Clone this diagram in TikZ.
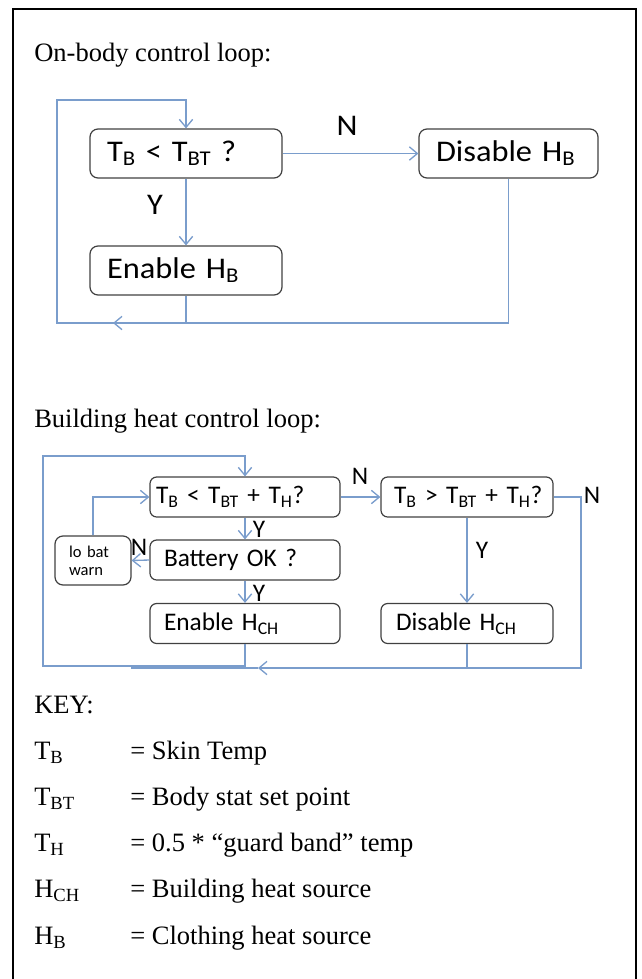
\documentclass[tikz,border=0pt]{standalone}
\usepackage{fontspec}
\setmainfont{Liberation Serif}
\newfontfamily\calfont{Carlito}
\newfontfamily\calwide{Carlito}[FakeStretch=1.08]
\usetikzlibrary{arrows.meta}
\definecolor{linkblue}{RGB}{122,157,204}
\definecolor{boxgray}{RGB}{64,64,64}
\newcommand\mysub[1]{\textsubscript{#1}}
\begin{document}
\begin{tikzpicture}[x=0.75pt,y=-0.75pt,
  box/.style={draw=boxgray, line width=0.9pt, rounded corners=6pt, inner ysep=0pt, font=\calfont\fontsize{19}{22}\selectfont, align=left},
  bigbox/.style={box, font=\calwide\fontsize{22.5}{26}\selectfont, minimum height=36.75pt},
  smallbox/.style={box, rounded corners=5pt, minimum height=30pt},
  link/.style={draw=linkblue, line width=1pt},
  arr/.style={link, -{Straight Barb[length=6pt,width=10pt]}},
  lbl/.style={font=\calwide\fontsize{22.5}{26}\selectfont, inner sep=0pt},
  slbl/.style={font=\calfont\fontsize{19}{22}\selectfont, inner sep=0pt},
  serif/.style={font=\fontsize{19.9}{24}\selectfont, inner sep=0pt, anchor=base west},
]
\useasboundingbox (0,0) rectangle (642,979);
\draw[line width=1.5pt] (13,979) -- (13,9) -- (636,9) -- (636,979);

% titles
\node[serif] (t1) at (34,61) {On-body control loop:};
\node[serif] (t2) at (34,427) {Building heat control loop:};

% top loop
\node[bigbox, minimum width=144pt, text width=118.5pt, inner xsep=12.75pt] (b1) at (186,153.5) {\mbox{T\mysub{B} < T\mysub{BT} ?}};
\node[bigbox, minimum width=134.25pt, text width=108.75pt, inner xsep=12.75pt] (b2) at (508.5,153.5) {\mbox{Disable H\mysub{B}}};
\node[bigbox, minimum width=144pt, text width=118.5pt, inner xsep=12.75pt] (b3) at (186,270.5) {\mbox{Enable H\mysub{B}}};
\coordinate (tl) at (57,100);
\coordinate (bl) at (57,323);
\coordinate (barrow) at (113,323);
\draw[arr] (b3.south) |- (bl) -- (tl) -| (b1.north);
\draw[arr] (b1.east) -- (b2.west);
\draw[arr] (b1.south) -- (b3.north);
\draw[arr] (b2.south) |- (barrow);
\node[lbl] (n1) at (347,126) {N};
\node[lbl] (y1) at (155,205) {Y};

% bottom loop
\node[smallbox, minimum width=142.5pt, text width=133.5pt, inner xsep=4.5pt] (A) at (245,497) {\mbox{T\mysub{B} < T\mysub{BT} + T\mysub{H}?}};
\node[smallbox, minimum width=129pt, text width=109.5pt, inner xsep=9.75pt] (B) at (467,497) {\mbox{T\mysub{B} > T\mysub{BT} + T\mysub{H}?}};
\node[smallbox, minimum width=142.5pt, text width=121.5pt, inner xsep=10.5pt] (C) at (245,560) {\mbox{Battery OK ?}};
\node[smallbox, minimum width=142.5pt, text width=121.5pt, inner xsep=10.5pt] (D) at (245,623.5) {\mbox{Enable H\mysub{CH}}};
\node[smallbox, minimum width=129pt, text width=106.5pt, inner xsep=11.25pt] (E) at (467,623.5) {\mbox{Disable H\mysub{CH}}};
\node[box, font=\calfont\fontsize{12.4}{13.5}\selectfont, minimum width=57pt, minimum height=36.75pt, text width=36pt, inner xsep=10.5pt] (F) at (93,560.5) {lo bat\\warn};

\coordinate (otl) at (43,456);
\coordinate (obl) at (43,666);
\coordinate (rt) at (581,497);
\coordinate (rb) at (581,668);
\coordinate (barr) at (258,668);
\coordinate (bend) at (131,668);
\coordinate (eb) at (467,668);
\draw[arr] (D.south) |- (obl) -- (otl) -| (A.north);
\draw[arr] (F.north) |- (A.west);
\draw[arr] (A.east) -- (B.west);
\draw[arr] (A.south) -- (C.north);
\draw[arr] (C.west) -- (F.east);
\draw[arr] (C.south) -- (D.north);
\draw[arr] (B.south) -- (E.north);
\draw[arr] (B.east) -- (rt) -- (rb) -- (barr);
\draw[link] (barr) -- (bend);
\draw[link] (E.south) -- (eb);
\node[slbl] (n2) at (360,476) {N};
\node[slbl] (y2) at (259,529) {Y};
\node[slbl] (n3) at (139,547) {N};
\node[slbl] (y3) at (259,593) {Y};
\node[slbl] (y4) at (482,550) {Y};
\node[slbl] (n4) at (592,495) {N};

% key
\node[serif] (key) at (34,713) {KEY:};
\node[serif] (k1s) at (34,759) {T\textsubscript{B}};
\node[serif] (k1d) at (130,759) {= Skin Temp};
\node[serif] (k2s) at (34,805) {T\textsubscript{BT}};
\node[serif] (k2d) at (130,805) {= Body stat set point};
\node[serif] (k3s) at (34,851) {T\textsubscript{H}};
\node[serif] (k3d) at (130,851) {= 0.5 * “guard band” temp};
\node[serif] (k4s) at (34,897) {H\textsubscript{CH}};
\node[serif] (k4d) at (130,897) {= Building heat source};
\node[serif] (k5s) at (34,944) {H\textsubscript{B}};
\node[serif] (k5d) at (130,944) {= Clothing heat source};
\end{tikzpicture}
\end{document}
